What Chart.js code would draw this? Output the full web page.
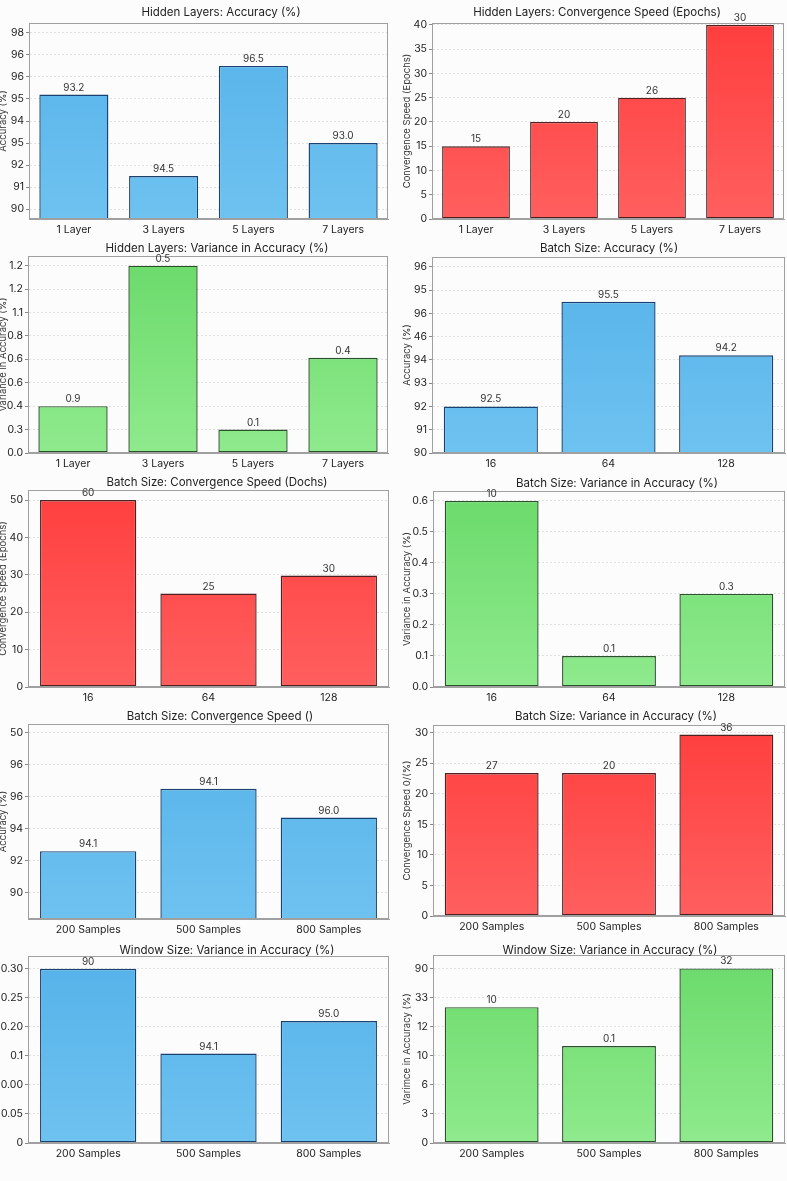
<!DOCTYPE html>
<html>
<head>
<meta charset="utf-8">
<script src="https://cdn.jsdelivr.net/npm/chart.js@4.4.1/dist/chart.umd.min.js"></script>
<style>
  body { margin: 0; background: #fcfcfc; }
  #grid { position: relative; width: 787px; height: 1181px; }
  #grid canvas { position: absolute; }
</style>
</head>
<body>
<div id="grid"></div>
<script>
// categories
const hiddenLayers = ["1 Layer", "3 Layers", "5 Layers", "7 Layers"];
const batchSizes = ["16", "64", "128"];
const sampleSizes = ["200 Samples", "500 Samples", "800 Samples"];

// hidden layers
const hlAccuracy = [95.2, 91.5, 96.5, 93.0];
const hlAccuracyText = ["93.2", "94.5", "96.5", "93.0"];
const hlAccuracyTicks = ["90", "91", "92", "95", "94", "95", "96", "96", "98"];

const hlEpochs = [15, 20, 25, 40];
const hlEpochsText = ["15", "20", "26", "30"];

const hlVariance = [0.3, 1.2, 0.15, 0.61];
const hlVarianceText = ["0.9", "0.5", "0.1", "0.4"];
const hlVarianceTicks = ["0.0", "0.3", "0.4", "0.6", "0.6", "0.8", "1.1", "1.2", "1.2"];

// batch size
const bsAccuracy = [92.0, 96.5, 94.2];
const bsAccuracyText = ["92.5", "95.5", "94.2"];
const bsAccuracyTicks = ["90", "91", "92", "93", "94", "46", "96", "95", "96"];

const bsEpochs = [50, 25, 29.8];
const bsEpochsText = ["60", "25", "30"];

const bsVariance = [0.6, 0.1, 0.3];
const bsVarianceText = ["10", "0.1", "0.3"];

// samples
const smAccuracy = [92.6, 96.5, 94.7];
const smAccuracyText = ["94.1", "94.1", "96.0"];
const smAccuracyTicks = ["90", "92", "94", "96", "96", "50"];

const smEpochs = [23.4, 23.4, 29.7];
const smEpochsText = ["27", "20", "36"];

// window size
const wsAccuracy = [0.30, 0.154, 0.21];
const wsAccuracyText = ["90", "94.1", "95.0"];
const wsAccuracyTicks = ["0", "0.05", "0.00", "0.1", "0.20", "0.25", "0.30"];

const wsVariance = [70, 50, 90];
const wsVarianceText = ["10", "0.1", "32"];
const wsVarianceTicks = ["0", "3", "6", "10", "12", "33", "90"];

const FONT = "Inter, 'Noto Sans', sans-serif";

const palette = {
  blue: { top: "#55b2e9", bottom: "#6ec2f0", edge: "#1a4270" },
  red: { top: "#ff3e3e", bottom: "#ff5f5f", edge: "#4e2020" },
  green: { top: "#6ada6a", bottom: "#8fea8d", edge: "#2a522a" },
};

const decor = {
  id: "decor",
  afterDraw(chart, args, opts) {
    const { ctx, chartArea: a } = chart;
    ctx.save();
    ctx.strokeStyle = "#a0a0a0";
    ctx.lineWidth = 1;
    ctx.strokeRect(a.left + 0.5, a.top + 0.5, a.right - a.left - 1, a.bottom - a.top - 1);

    ctx.fillStyle = "#333";
    ctx.textAlign = "center";
    ctx.textBaseline = "middle";
    ctx.font = "10px " + FONT;
    const meta = chart.getDatasetMeta(0);
    meta.data.forEach((bar, i) => {
      ctx.fillText(opts.labels[i], bar.x, bar.y - 7);
    });

    ctx.fillStyle = "#222";
    ctx.font = "11.5px " + FONT;
    ctx.fillText(opts.title, opts.titleX, opts.titleY);
    ctx.restore();
  },
};

function makeChart(cfg) {
  const canvas = document.createElement("canvas");
  canvas.width = cfg.cell[2];
  canvas.height = cfg.cell[3];
  canvas.style.left = cfg.cell[0] + "px";
  canvas.style.top = cfg.cell[1] + "px";
  document.getElementById("grid").appendChild(canvas);

  const col = palette[cfg.color];
  const area = cfg.plot; // left, right, top, bottom inside the cell
  const isLeft = cfg.cell[0] === 0;

  return new Chart(canvas, {
    type: "bar",
    data: {
      labels: cfg.labels,
      datasets: [
        {
          data: cfg.values,
          backgroundColor: (c) => {
            const ca = c.chart.chartArea;
            if (!ca) return col.bottom;
            const g = c.chart.ctx.createLinearGradient(0, ca.top, 0, ca.bottom);
            g.addColorStop(0, col.top);
            g.addColorStop(1, col.bottom);
            return g;
          },
          borderColor: col.edge,
          borderWidth: 1.4,
          borderSkipped: false,
          categoryPercentage: 1,
          barPercentage: cfg.labels.length === 4 ? 0.77 : 0.8,
        },
      ],
    },
    options: {
      responsive: false,
      animation: false,
      layout: {
        padding: { top: area[2], right: cfg.cell[2] - area[1], left: 0, bottom: 0 },
      },
      scales: {
        x: {
          grid: { display: false, drawTicks: false },
          border: { color: "#a0a0a0" },
          ticks: {
            color: "#222",
            font: { family: FONT, size: 10.5 },
            padding: 5,
            maxRotation: 0,
          },
          afterFit(scale) {
            scale.height = cfg.cell[3] - area[3];
          },
        },
        y: {
          min: cfg.min,
          max: cfg.max,
          grid: {
            color: "#e2e2e2",
            tickColor: "#888",
            tickLength: 3,
            tickBorderDash: [],
          },
          border: { color: "#a0a0a0", dash: [2, 2] },
          ticks: {
            stepSize: cfg.step,
            includeBounds: false,
            autoSkip: false,
            color: "#222",
            font: { family: FONT, size: 10.5 },
            padding: 2,
            callback: (v, i) => (cfg.ticks ? cfg.ticks[i] : cfg.fmt ? v.toFixed(cfg.fmt) : v),
          },
          title: {
            display: !!cfg.yTitle,
            text: cfg.yTitle,
            color: "#333",
            font: { family: FONT, size: 9.5 },
            padding: { top: isLeft ? -3 : 7, bottom: 0 },
          },
          afterFit(scale) {
            scale.width = area[0];
          },
        },
      },
      plugins: {
        legend: { display: false },
        tooltip: { enabled: false },
        decor: {
          title: cfg.title,
          titleX: cfg.titleX,
          titleY: cfg.titleY,
          labels: cfg.text,
        },
      },
    },
    plugins: [decor],
  });
}

const charts = [
  {
    cell: [0, 0, 394, 240], plot: [29, 388, 23, 219], titleX: 221, titleY: 13,
    title: "Hidden Layers: Accuracy (%)", yTitle: "Accuracy (%)", color: "blue",
    labels: hiddenLayers, values: hlAccuracy, text: hlAccuracyText, ticks: hlAccuracyTicks,
    min: 89.55, max: 98.45, step: 1,
  },
  {
    cell: [394, 0, 393, 240], plot: [38, 390, 23, 219], titleX: 203, titleY: 13,
    title: "Hidden Layers: Convergence Speed (Epochs)", yTitle: "Convergence Speed (Epochs)", color: "red",
    labels: hiddenLayers, values: hlEpochs, text: hlEpochsText,
    min: 0, max: 40.4, step: 5,
  },
  {
    cell: [0, 240, 394, 235], plot: [28, 388, 16, 213], titleX: 217, titleY: 9,
    title: "Hidden Layers: Variance in Accuracy (%)", yTitle: "Variance in Accuracy (%)", color: "green",
    labels: hiddenLayers, values: hlVariance, text: hlVarianceText, ticks: hlVarianceTicks,
    min: 0, max: 1.262, step: 0.15,
  },
  {
    cell: [394, 240, 393, 235], plot: [38, 391, 17, 213], titleX: 215, titleY: 9,
    title: "Batch Size: Accuracy (%)", yTitle: "Accuracy (%)", color: "blue",
    labels: batchSizes, values: bsAccuracy, text: bsAccuracyText, ticks: bsAccuracyTicks,
    min: 90, max: 98.43, step: 1,
  },
  {
    cell: [0, 475, 394, 235], plot: [28, 389, 15, 212], titleX: 217, titleY: 8,
    title: "Batch Size: Convergence Speed (Dochs)", yTitle: "Convergence Speed (Epochs)", color: "red",
    labels: batchSizes, values: bsEpochs, text: bsEpochsText,
    min: 0, max: 52.7, step: 10,
  },
  {
    cell: [394, 475, 393, 235], plot: [39, 391, 16, 212], titleX: 223, titleY: 9,
    title: "Batch Size: Variance in Accuracy (%)", yTitle: "Variance in Accuracy (%)", color: "green",
    labels: batchSizes, values: bsVariance, text: bsVarianceText, fmt: 1,
    min: 0, max: 0.632, step: 0.1,
  },
  {
    cell: [0, 710, 394, 230], plot: [28, 389, 14, 209], titleX: 220, titleY: 7,
    title: "Batch Size: Convergence Speed ()", yTitle: "Accuracy (%)", color: "blue",
    labels: sampleSizes, values: smAccuracy, text: smAccuracyText, ticks: smAccuracyTicks,
    min: 88.37, max: 100.54, step: 2,
  },
  {
    cell: [394, 710, 393, 230], plot: [39, 391, 15, 206], titleX: 222, titleY: 7,
    title: "Batch Size: Variance in Accuracy (%)", yTitle: "Convergence Speed 0/(%)", color: "red",
    labels: sampleSizes, values: smEpochs, text: smEpochsText,
    min: 0, max: 31.27, step: 5,
  },
  {
    cell: [0, 940, 394, 241], plot: [28, 389, 16, 203], titleX: 227, titleY: 11,
    title: "Window Size: Variance in Accuracy (%)", yTitle: "", color: "blue",
    labels: sampleSizes, values: wsAccuracy, text: wsAccuracyText, ticks: wsAccuracyTicks,
    min: 0, max: 0.322, step: 0.05,
  },
  {
    cell: [394, 940, 393, 241], plot: [39, 391, 15, 203], titleX: 216, titleY: 11,
    title: "Window Size: Variance in Accuracy (%)", yTitle: "Varimce in Accuracy (%)", color: "green",
    labels: sampleSizes, values: wsVariance, text: wsVarianceText, ticks: wsVarianceTicks,
    min: 0, max: 96.9, step: 15,
  },
];

charts.forEach(makeChart);
</script>
</body>
</html>
